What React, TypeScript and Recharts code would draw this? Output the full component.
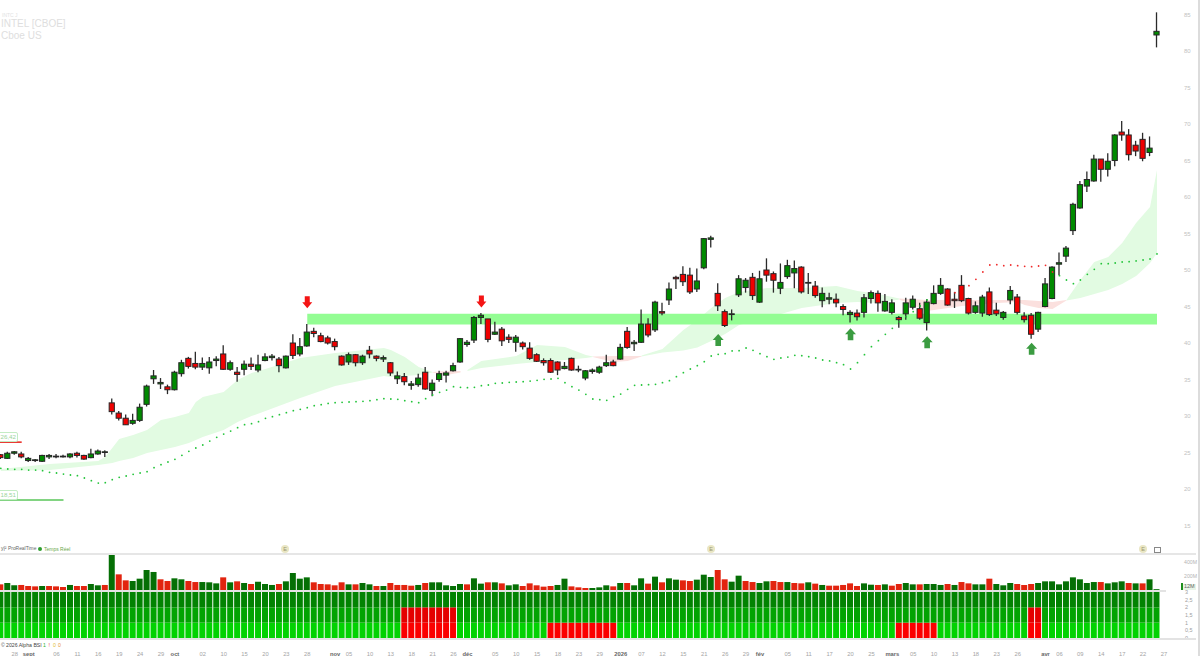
import { Area, Bar, Cell, ComposedChart, Line, ReferenceDot, ReferenceLine, XAxis, YAxis } from "recharts";

// daily candles
const opens = [
  24.7, 24.2, 24.9, 24.8, 23.9, 23.9, 23.8, 24.4, 24.4, 24.4,
  24.4, 24.9, 24.6, 24.3, 24.8, 25.0, 31.8, 30.4, 29.7, 29.0,
  29.4, 31.6, 35.1, 34.4, 34.0, 33.6, 35.8, 37.9, 37.2, 36.7,
  36.6, 37.6, 38.5, 36.4, 36.0, 36.4, 37.1, 36.3, 37.6, 38.0,
  37.8, 36.6, 40.0, 38.5, 39.6, 41.6, 41.0, 40.7, 40.2, 38.2,
  37.4, 38.4, 37.3, 39.0, 38.2, 37.8, 37.3, 35.1, 35.4, 34.2,
  34.3, 36.0, 33.5, 35.0, 35.6, 36.2, 37.4, 39.8, 40.4, 43.5,
  43.3, 41.2, 41.9, 40.8, 40.1, 40.0, 39.3, 38.4, 37.6, 37.6,
  37.4, 36.5, 37.9, 36.3, 35.2, 36.1, 36.0, 36.9, 37.4, 37.8,
  41.6, 39.9, 40.1, 42.6, 41.8, 44.3, 45.9, 49.0, 49.4, 49.3,
  47.4, 50.3, 54.2, 46.8, 44.3, 43.9, 46.6, 47.6, 49.0, 45.6,
  50.0, 49.5, 47.5, 49.1, 49.6, 50.4, 48.2, 47.8, 45.8, 46.0,
  46.0, 45.0, 43.9, 44.1, 44.2, 46.1, 46.8, 44.4, 44.2, 43.5,
  44.0, 44.9, 44.7, 42.8, 45.4, 46.8, 47.4, 46.0, 47.9, 46.1,
  44.2, 44.1, 47.0, 44.5, 43.5, 45.9, 46.3, 43.7, 43.8, 41.9,
  45.0, 46.1, 50.8, 51.9, 55.4, 58.5, 61.5, 62.2, 65.2, 63.8,
  65.0, 68.9, 68.5, 67.1, 67.9, 66.1, 82.2,
];
const closes = [
  24.3, 24.9, 25.1, 24.4, 24.2, 24.0, 24.6, 24.6, 24.5, 24.5,
  24.8, 24.6, 24.1, 24.8, 25.2, 25.1, 30.6, 29.7, 28.8, 29.4,
  31.2, 34.1, 35.5, 34.6, 33.6, 36.0, 37.3, 36.8, 36.7, 37.2,
  37.4, 37.8, 36.4, 37.3, 35.7, 37.1, 36.8, 37.0, 38.1, 38.2,
  36.9, 38.2, 38.3, 39.5, 41.5, 41.3, 40.2, 40.0, 39.5, 37.0,
  38.4, 37.3, 38.2, 38.5, 37.9, 38.0, 35.9, 35.5, 34.7, 34.4,
  35.2, 33.7, 34.5, 35.8, 35.9, 36.9, 40.6, 40.1, 43.5, 43.8,
  40.5, 41.5, 40.3, 40.5, 40.8, 39.5, 37.9, 37.5, 37.3, 36.0,
  36.3, 36.8, 36.3, 36.4, 36.2, 36.3, 36.7, 37.3, 36.9, 39.4,
  39.4, 40.1, 42.6, 41.1, 45.6, 44.1, 47.4, 48.8, 48.4, 47.0,
  48.5, 54.3, 54.4, 45.1, 42.4, 44.0, 48.8, 48.6, 46.5, 48.8,
  49.3, 48.6, 48.3, 50.6, 50.2, 47.0, 48.3, 46.5, 46.8, 46.2,
  45.5, 44.6, 44.2, 43.6, 46.2, 46.9, 45.5, 45.7, 45.5, 43.2,
  45.5, 46.0, 43.4, 45.6, 46.8, 47.9, 45.2, 45.8, 45.8, 44.1,
  45.1, 46.3, 43.9, 44.0, 44.2, 47.2, 44.2, 43.2, 41.2, 44.2,
  48.1, 50.4, 51.0, 53.0, 59.0, 61.7, 62.4, 65.2, 63.8, 64.9,
  68.5, 68.5, 65.8, 66.3, 65.3, 66.7, 82.7,
];
const highs = [
  24.8, 25.1, 25.2, 25.1, 24.4, 24.1, 24.7, 24.8, 24.8, 24.7,
  24.9, 25.1, 24.7, 25.5, 25.4, 25.3, 32.4, 30.7, 30.2, 30.3,
  31.7, 34.3, 36.3, 35.2, 34.3, 36.2, 37.7, 38.1, 38.8, 38.0,
  38.1, 38.2, 39.7, 37.6, 36.7, 37.6, 38.0, 38.4, 38.6, 38.5,
  38.1, 38.3, 41.2, 40.7, 42.6, 42.1, 41.4, 41.0, 40.6, 38.3,
  38.7, 38.5, 38.4, 39.6, 38.3, 38.3, 37.4, 36.1, 35.9, 34.8,
  35.8, 36.7, 35.0, 36.2, 36.2, 37.3, 40.7, 40.4, 43.7, 44.1,
  43.3, 42.9, 42.2, 41.2, 41.1, 40.2, 40.1, 38.6, 37.9, 37.9,
  37.5, 37.4, 38.0, 36.9, 36.3, 36.5, 36.9, 38.4, 37.7, 39.9,
  42.2, 40.4, 44.6, 43.4, 45.8, 45.5, 48.3, 49.2, 50.5, 50.3,
  50.2, 54.4, 54.7, 48.2, 44.6, 44.6, 49.3, 48.9, 49.6, 49.9,
  51.6, 49.8, 50.9, 51.4, 51.3, 50.5, 49.6, 48.5, 47.6, 46.9,
  46.8, 45.3, 44.5, 44.6, 46.7, 47.2, 47.2, 46.7, 46.0, 43.7,
  46.2, 46.5, 45.5, 46.0, 47.9, 48.9, 47.5, 47.0, 49.3, 46.2,
  45.7, 46.6, 47.6, 45.5, 44.4, 47.8, 46.7, 44.2, 44.1, 44.3,
  48.9, 50.5, 52.4, 53.3, 59.2, 62.2, 63.5, 65.8, 65.2, 66.0,
  68.6, 70.4, 69.3, 67.7, 68.8, 68.3, 85.3,
];
const lows = [
  24.1, 24.1, 24.7, 24.2, 23.7, 23.7, 23.7, 24.1, 24.2, 24.3,
  24.2, 24.3, 24.0, 24.2, 24.7, 24.4, 30.2, 29.4, 28.8, 28.8,
  29.2, 31.3, 34.4, 33.7, 33.0, 33.5, 35.4, 36.5, 36.4, 36.3,
  35.8, 36.8, 36.3, 36.2, 34.7, 35.6, 36.3, 36.0, 37.5, 37.6,
  36.0, 36.5, 37.8, 38.2, 39.5, 40.8, 40.1, 39.8, 39.0, 36.9,
  37.0, 36.8, 37.0, 37.9, 37.5, 37.4, 35.5, 34.4, 34.2, 33.6,
  34.0, 33.6, 32.7, 34.7, 34.6, 36.1, 37.3, 39.5, 40.0, 42.6,
  40.1, 41.1, 39.6, 40.0, 38.8, 39.1, 37.7, 37.4, 36.9, 35.9,
  35.6, 36.4, 36.2, 36.0, 34.9, 35.8, 35.8, 36.7, 36.8, 37.7,
  39.2, 38.9, 40.0, 40.8, 41.5, 43.8, 45.2, 47.4, 47.8, 46.7,
  47.0, 50.1, 53.1, 44.4, 42.2, 43.1, 46.3, 46.9, 45.9, 45.5,
  48.4, 46.9, 46.7, 48.8, 47.5, 46.8, 46.7, 46.2, 44.9, 45.3,
  44.9, 43.8, 42.8, 43.1, 43.5, 45.4, 44.3, 44.3, 43.9, 42.1,
  43.2, 44.6, 43.2, 41.7, 45.3, 46.6, 45.1, 44.8, 45.6, 43.9,
  44.0, 43.6, 43.7, 43.7, 43.2, 45.3, 43.9, 42.8, 40.6, 41.5,
  44.9, 46.0, 49.3, 51.1, 54.8, 58.4, 60.7, 62.1, 62.1, 62.8,
  64.2, 67.7, 65.0, 65.6, 64.9, 65.6, 80.5,
];

// volume in millions
const volumes = [
  81, 100, 67, 72, 57, 52, 57, 57, 52, 43, 72, 57, 57, 86, 67, 72, 515, 224, 138, 129,
  162, 286, 258, 153, 129, 167, 153, 129, 114, 114, 110, 95, 181, 110, 124, 100, 86, 119, 86, 72,
  86, 124, 243, 162, 181, 110, 86, 81, 67, 110, 81, 81, 100, 81, 57, 57, 100, 72, 72, 62,
  72, 100, 110, 110, 67, 57, 86, 81, 167, 91, 110, 110, 95, 67, 81, 57, 95, 67, 48, 57,
  72, 162, 52, 38, 29, 29, 38, 67, 52, 100, 100, 67, 167, 91, 191, 110, 167, 148, 138, 129,
  148, 219, 186, 286, 153, 119, 205, 129, 114, 100, 124, 129, 114, 114, 100, 95, 110, 91, 72, 62,
  62, 72, 95, 57, 95, 76, 72, 81, 62, 86, 100, 81, 81, 86, 86, 72, 86, 72, 114, 95,
  81, 81, 162, 86, 67, 100, 86, 72, 86, 100, 124, 124, 81, 124, 181, 153, 100, 114, 114, 95,
  110, 124, 100, 95, 95, 153, 12,
];
const redVolumeBars = [
  0, 3, 4, 5, 7, 8, 9, 11, 12, 15, 17, 18, 23, 24, 27, 28, 32, 34, 36, 40, 45, 46, 47, 48, 49, 51, 54, 56, 57, 58,
  59, 61, 67, 70, 72, 75, 76, 77, 78, 79, 82, 83, 84, 88, 90, 93, 95, 98, 99, 103, 104, 107, 108, 111, 112, 114,
  115, 117, 119, 120, 121, 122, 123, 126, 128, 129, 132, 136, 138, 139, 142, 146, 147, 148, 158, 162, 164,
];

// Alpha BSI: which bars have one or two of their three layers turned red
const bsiRedOneLayer = [79, 80, 81, 82, 83, 84, 85, 86, 87, 88, 129, 130, 131, 132, 133, 134];
const bsiRedTwoLayers = [58, 59, 60, 61, 62, 63, 64, 65, 148, 149];

// trailing stop dots (null where the candle hides them)
const stopValues = [
  22.83, 22.74, 22.69, 22.69, 22.6, 22.6, 22.51, 22.28, 22.19, 22.05,
  21.92, 21.83, 21.51, 21.14, 20.82, 20.87, 21.28, 21.6, 21.78, 22.01,
  22.19, 22.37, 22.92, 23.33, 23.7, 24.06, 24.61, 25.16, 25.62, 26.03,
  26.57, 27.08, 27.53, 27.94, 28.4, 28.81, 28.95, 29.22, 29.68, 29.91,
  30.18, 30.46, 30.73, 30.91, 31.14, 31.42, 31.55, 31.73, 31.83, 31.87,
  31.92, 31.96, 32.01, 32.1, 32.24, 32.37, 32.33, 32.28, 32.1, 31.96,
  31.83, 32.38, 32.88, 33.24, 33.56, 34.02, 33.93, 33.88, 33.93, 34.16,
  34.25, 34.48, 34.52, 34.61, 34.66, 34.7, 34.79, 34.89, 35.02, 35.07,
  35.16, 34.57, 34.02, 33.56, 32.97, 32.33, 32.24, 32.15, 32.65, 33.01,
  33.65, 34.2, 34.25, 34.29, 34.34, 34.57, 34.84, 35.39, 35.94, 36.44,
  36.9, 37.44, 38.22, 38.45, 38.54, 38.91, 38.95, 39.32, 39.0, 38.54,
  38.13, 37.76, 37.95, 38.08, 38.31, 38.27, 38.13, 37.95, 37.67, 37.54,
  37.31, 37.03, 36.44, 37.31, 38.4, 39.5, 40.32, 41.19, 42.01, 42.9,
  43.6, 44.3, 45.07, 45.89, null, null, null, 46.9, null, 47.86,
  48.72, 49.73, 50.69, 50.73, 50.6, 50.69, 50.6, 50.5, 50.46, 50.55,
  50.64, 49.73, 49.23, 48.63, 48.13, 48.63, 49.41, 50.09, 50.87, 50.87,
  50.96, 51.1, 51.14, 51.24, 51.37, 51.51, 52.2,
];
const stopRedFrom = 137;
const stopRedTo = 151;

// cloud outlines: [bar, lower, upper]
const cloudGreen1 = [
  [0, 22.46, 22.74], [7, 22.6, 23.42], [14, 23.29, 23.83], [15, 23.42, 24.42], [16, 23.56, 25.62],
  [17, 23.83, 26.85], [19, 24.25, 27.4], [21, 24.93, 28.08], [23, 25.34, 29.45], [25, 25.75, 29.86],
  [27, 26.3, 30.41], [28, 26.71, 31.92], [29, 27.12, 32.6], [32, 28.08, 33.29], [34, 29.18, 34.93],
  [36, 30.0, 35.89], [38, 30.68, 36.44], [43, 32.47, 37.94], [48, 34.11, 38.63], [55, 35.48, 39.32],
  [56, 35.34, 39.04], [58, 35.48, 38.08], [60, 35.62, 36.71], [62, 35.96, 36.03],
];
const cloudPink1 = [[62, 35.96, 36.03], [64, 35.62, 36.16], [66, 35.96, 36.16]];
const cloudGreen2 = [
  [67, 36.16, 36.3], [69, 36.57, 37.53], [74, 37.12, 38.22], [77, 37.4, 39.73],
  [81, 37.67, 39.45], [84, 37.94, 38.36], [85, 38.08, 38.15],
];
const cloudPink2 = [[85, 38.08, 38.15], [88, 37.4, 38.22], [90, 37.53, 38.22], [92, 38.15, 38.22]];
const cloudGreen3 = [
  [92, 38.15, 38.29], [95, 38.7, 39.18], [98, 38.97, 41.78], [100, 39.38, 43.15], [102, 40.27, 44.79],
  [104, 41.23, 46.16], [106, 42.47, 46.99], [110, 43.42, 47.53], [115, 44.79, 47.53], [120, 45.48, 47.81],
  [123, 45.62, 47.12], [126, 45.48, 46.71], [129, 45.96, 46.1],
];
const cloudPink3 = [
  [129, 45.96, 46.1], [133, 44.38, 45.89], [138, 45.07, 45.89], [143, 45.48, 45.89], [146, 45.62, 45.89],
  [147, 45.2, 45.89], [149, 44.79, 45.75], [151, 44.66, 45.62], [153, 45.82, 45.89],
];
const cloudGreen4 = [
  [153, 45.82, 45.89], [155, 46.16, 48.63], [157, 46.71, 51.1], [159, 47.26, 51.78],
  [161, 48.08, 53.7], [163, 49.18, 56.44], [165, 50.96, 58.63], [166, 52.33, 63.7],
];
const cloudSections = [
  { key: "green1", fill: "#e2fbe2", knots: cloudGreen1 },
  { key: "pink1", fill: "#fbe0de", knots: cloudPink1 },
  { key: "green2", fill: "#e2fbe2", knots: cloudGreen2 },
  { key: "pink2", fill: "#fbe0de", knots: cloudPink2 },
  { key: "green3", fill: "#e2fbe2", knots: cloudGreen3 },
  { key: "pink3", fill: "#fbe0de", knots: cloudPink3 },
  { key: "green4", fill: "#e2fbe2", knots: cloudGreen4 },
];

// horizontal zone and the drawn levels
const zoneLow = 42.55;
const zoneHigh = 44.0;
const zoneFrom = 44;
const zoneTo = 166;
const resistanceLevel = 26.42;
const resistanceEnd = 3;
const supportLevel = 18.51;
const supportEnd = 9;

const arrowsDown = [[44, 45.6], [69, 45.7]];
const arrowsUp = [[103, 40.4], [122, 41.2], [133, 40.1], [148, 39.2]];

const priceTicks = [15, 20, 25, 30, 35, 40, 45, 50, 55, 60, 65, 70, 75, 80, 85];
const volumeTicks = [200, 400];
const bsiTicks = [0, 0.5, 1, 1.5, 2, 2.5, 3];
const dateTickBars = [
  2, 4, 8, 11, 14, 17, 20, 23, 25, 29, 32, 35, 38, 41, 44, 48, 50, 53, 56, 59, 62, 65, 67, 71, 74, 77, 80, 83, 86, 89,
  92, 95, 98, 101, 104, 107, 109, 113, 116, 119, 122, 125, 128, 131, 134, 137, 140, 143, 146, 150, 152, 155, 158, 161, 164, 167,
];
const dateTickLabels = [
  "28", "sept", "06", "11", "16", "19", "24", "29", "oct", "02", "10", "15", "20", "23", "28", "nov", "05", "10", "13", "18",
  "21", "26", "déc", "05", "10", "15", "18", "23", "29", "2026", "07", "12", "15", "21", "26", "29", "fév", "05", "11", "17",
  "20", "25", "mars", "05", "10", "13", "18", "23", "26", "avr", "06", "09", "14", "17", "22", "27",
];

const rows: any[] = opens.map((open, i) => ({
  i,
  open,
  close: closes[i],
  high: highs[i],
  low: lows[i],
  range: [lows[i], highs[i]],
  volume: volumes[i],
  stopGreen: i >= stopRedFrom && i <= stopRedTo ? null : stopValues[i],
  stopRed: i >= stopRedFrom && i <= stopRedTo ? stopValues[i] : null,
  zone: i >= zoneFrom && i <= zoneTo ? [zoneLow, zoneHigh] : null,
  bsiLow: 1,
  bsiMid: 1,
  bsiTop: 1,
}));
cloudSections.forEach((section) => {
  section.knots.forEach(([bar, lower, upper]) => {
    rows[bar][section.key] = [lower, upper];
  });
});

const FONT = '"Liberation Sans", Arial, sans-serif';
const WIDTH = 1200;
const PLOT_RIGHT = 35;
const xDomain = [-0.115, 167.15];
const margin = { top: 0, right: 0, bottom: 0, left: 0 };

const Candle = (props: any) => {
  const { x, y, width, height, payload } = props;
  const k = height / (payload.high - payload.low);
  const up = payload.close >= payload.open;
  const top = y + (payload.high - Math.max(payload.open, payload.close)) * k;
  const bottom = y + (payload.high - Math.min(payload.open, payload.close)) * k;
  const cx = x + width / 2;
  return (
    <g>
      <line x1={cx} x2={cx} y1={y} y2={y + height} stroke="#2a2a2a" strokeWidth={1.3} />
      <rect
        x={x + 0.4}
        y={top}
        width={width - 0.8}
        height={Math.max(bottom - top, 0.6)}
        fill={up ? "#008a00" : "#f00000"}
        stroke="#262626"
        strokeWidth={1}
      />
    </g>
  );
};

const ArrowDown = ({ cx, cy }: any) => (
  <path
    d={`M${cx - 2.5} ${cy - 6}h5v6h2.5l-5 6l-5 -6h2.5z`}
    fill="#f41414"
  />
);

const ArrowUp = ({ cx, cy }: any) => (
  <path
    d={`M${cx} ${cy - 6}l5.5 6h-2.7v6h-5.6v-6h-2.7z`}
    fill="#3b9c41"
  />
);

const DateTick = ({ x, y, payload }: any) => {
  const label = dateTickLabels[dateTickBars.indexOf(payload.value)];
  const isMonth = isNaN(Number(label)) || label === "2026";
  return (
    <text
      x={x}
      y={y}
      dy={4.3}
      textAnchor="middle"
      fontFamily={FONT}
      fontSize={5.8}
      fontWeight={isMonth ? 700 : 400}
      fill={isMonth ? "#666" : "#a4a4a4"}
    >
      {label}
    </text>
  );
};

const overlayText = (style: any) => ({
  position: "absolute" as const,
  fontFamily: FONT,
  whiteSpace: "nowrap" as const,
  lineHeight: 1,
  ...style,
});

const levelTag = (top: number) =>
  overlayText({
    left: -2,
    top,
    width: 17,
    height: 8,
    border: "1px solid #c4ecc4",
    borderRadius: 2,
    fontSize: 6.2,
    lineHeight: "8px",
    color: "#9ad49a",
    textAlign: "right",
    paddingRight: 1,
  });

const EarningsBadge = ({ left }: { left: number }) => (
  <div
    style={overlayText({
      left: left - 4,
      top: 545,
      width: 8,
      height: 8,
      borderRadius: 4,
      background: "#e9e6c4",
      color: "#9a9870",
      fontSize: 5.5,
      textAlign: "center",
      lineHeight: "8px",
    })}
  >
    E
  </div>
);

export default function App() {
  return (
    <div style={{ position: "absolute", left: 0, top: 0, width: WIDTH, height: 656, overflow: "hidden", background: "#fff" }}>
      {/* price panel */}
      <div style={{ position: "absolute", left: 0, top: 0 }}>
        <ComposedChart width={WIDTH} height={545} data={rows} margin={margin}>
          <XAxis dataKey="i" type="number" scale="linear" domain={xDomain} allowDataOverflow hide />
          <YAxis
            orientation="right"
            width={PLOT_RIGHT}
            domain={[12.33, 86.99]}
            allowDataOverflow
            ticks={priceTicks}
            interval={0}
            axisLine={false}
            tickLine={false}
            tickMargin={13}
            tick={{ fontSize: 6, fill: "#c2c2c2", fontFamily: FONT }}
          />
          {cloudSections.map((section) => (
            <Area
              key={section.key}
              dataKey={section.key}
              fill={section.fill}
              fillOpacity={1}
              stroke="none"
              connectNulls
              dot={false}
              activeDot={false}
              isAnimationActive={false}
            />
          ))}
          <Area dataKey="zone" fill="#93fd93" fillOpacity={1} stroke="none" dot={false} activeDot={false} isAnimationActive={false} />
          <ReferenceLine
            segment={[{ x: xDomain[0], y: resistanceLevel }, { x: resistanceEnd, y: resistanceLevel }]}
            stroke="#e8231c"
            strokeWidth={1.5}
          />
          <ReferenceLine
            segment={[{ x: xDomain[0], y: supportLevel }, { x: supportEnd, y: supportLevel }]}
            stroke="#58c658"
            strokeWidth={1.5}
          />
          <Bar dataKey="range" barSize={6} shape={Candle} isAnimationActive={false} />
          <Line dataKey="stopGreen" stroke="none" dot={{ r: 0.9, fill: "#23c43a", stroke: "none" }} activeDot={false} isAnimationActive={false} />
          <Line dataKey="stopRed" stroke="none" dot={{ r: 0.9, fill: "#ef2b2b", stroke: "none" }} activeDot={false} isAnimationActive={false} />
          {arrowsDown.map(([bar, price]) => (
            <ReferenceDot key={bar} x={bar} y={price} shape={ArrowDown} />
          ))}
          {arrowsUp.map(([bar, price]) => (
            <ReferenceDot key={bar} x={bar} y={price} shape={ArrowUp} />
          ))}
        </ComposedChart>
      </div>

      {/* volume panel */}
      <div style={{ position: "absolute", left: 0, top: 554 }}>
        <ComposedChart width={WIDTH} height={36} data={rows} margin={margin}>
          <XAxis dataKey="i" type="number" scale="linear" domain={xDomain} allowDataOverflow hide />
          <YAxis
            orientation="right"
            width={PLOT_RIGHT}
            domain={[0, 515]}
            allowDataOverflow
            ticks={volumeTicks}
            interval={0}
            axisLine={false}
            tickLine={false}
            tickMargin={13}
            tickFormatter={(v: number) => `${v}M`}
            tick={{ fontSize: 5.2, fill: "#b4b4b4", fontFamily: FONT }}
          />
          <Bar dataKey="volume" barSize={6} isAnimationActive={false}>
            {rows.map((row) => (
              <Cell key={row.i} fill={redVolumeBars.includes(row.i) ? "#e2240f" : "#056f05"} />
            ))}
          </Bar>
        </ComposedChart>
      </div>

      {/* Alpha BSI panel, 4px of top margin so the "3" tick is not clipped */}
      <div style={{ position: "absolute", left: 0, top: 587.7 }}>
        <ComposedChart width={WIDTH} height={68.3} data={rows} margin={{ top: 4, right: 0, bottom: 0, left: 0 }}>
          <XAxis
            dataKey="i"
            type="number"
            scale="linear"
            domain={xDomain}
            allowDataOverflow
            ticks={dateTickBars}
            interval={0}
            height={18.3}
            axisLine={false}
            tickLine={false}
            tickMargin={8}
            tick={DateTick}
          />
          <YAxis
            orientation="right"
            width={PLOT_RIGHT}
            domain={[0, 3]}
            allowDataOverflow
            ticks={bsiTicks}
            interval={0}
            axisLine={false}
            tickLine={false}
            tickMargin={14}
            tickFormatter={(v: number) => String(v).replace(".", ",")}
            tick={{ fontSize: 5.5, fill: "#a0a0a0", fontFamily: FONT }}
          />
          <Bar dataKey="bsiLow" stackId="bsi" barSize={6} isAnimationActive={false}>
            {rows.map((row) => (
              <Cell
                key={row.i}
                fill={bsiRedOneLayer.includes(row.i) || bsiRedTwoLayers.includes(row.i) ? "#fb0000" : "#02d202"}
              />
            ))}
          </Bar>
          <Bar dataKey="bsiMid" stackId="bsi" barSize={6} isAnimationActive={false}>
            {rows.map((row) => (
              <Cell key={row.i} fill={bsiRedTwoLayers.includes(row.i) ? "#e40000" : "#02a302"} />
            ))}
          </Bar>
          <Bar dataKey="bsiTop" stackId="bsi" fill="#028302" barSize={6} isAnimationActive={false} />
        </ComposedChart>
      </div>

      {/* separators */}
      <div style={{ position: "absolute", left: 0, top: 553, width: 1196, height: 1.5, background: "#e6e6e6" }} />
      <div style={{ position: "absolute", left: 0, top: 590, width: 1166, height: 1.5, background: "#e3e3e3" }} />
      <div style={{ position: "absolute", left: 0, top: 638, width: 1196, height: 1.5, background: "#e3e3e3" }} />
      <div style={{ position: "absolute", left: 1198, top: 0, width: 1.5, height: 656, background: "#dcdcdc" }} />

      {/* header */}
      <div style={overlayText({ left: 2, top: 13, fontSize: 5, color: "#e2e2e2" })}>INTC J</div>
      <div style={overlayText({ left: 1, top: 19, fontSize: 10, color: "#dedede" })}>INTEL [CBOE]</div>
      <div style={overlayText({ left: 1, top: 31, fontSize: 10, color: "#dedede" })}>Cboe US</div>

      {/* level tags */}
      <div style={levelTag(432)}>26,42</div>
      <div style={levelTag(490)}>18,51</div>

      {/* panel captions */}
      <div style={overlayText({ left: 1, top: 546, fontSize: 5, color: "#555" })}>y|²</div>
      <div style={overlayText({ left: 8, top: 546.8, fontSize: 4.9, color: "#666" })}>ProRealTime</div>
      <div style={{ position: "absolute", left: 38, top: 547, width: 4, height: 4, borderRadius: 2, background: "#2f9e2f" }} />
      <div style={overlayText({ left: 44, top: 546.8, fontSize: 5, color: "#6aa84a" })}>Temps Réel</div>
      <EarningsBadge left={285} />
      <EarningsBadge left={711} />
      <EarningsBadge left={1143} />
      <div style={{ position: "absolute", left: 1154, top: 546.5, width: 4.5, height: 4.5, border: "1px solid #888" }} />
      <div style={overlayText({ left: 1, top: 642.5, fontSize: 5.2, color: "#555" })}>©</div>
      <div style={overlayText({ left: 6, top: 642.5, fontSize: 5.2, color: "#444" })}>2026 Alpha BSI</div>
      <div style={overlayText({ left: 43, top: 642.5, fontSize: 5.2, color: "#2fb52f" })}>1</div>
      <div style={overlayText({ left: 48.5, top: 642.5, fontSize: 5.2, color: "#e23a3a" })}>!</div>
      <div style={overlayText({ left: 53, top: 642.5, fontSize: 5.2, color: "#e0c030" })}>0</div>
      <div style={overlayText({ left: 58, top: 642.5, fontSize: 5.2, color: "#e8963a" })}>0</div>

      {/* current volume tag */}
      <div style={{ position: "absolute", left: 1181, top: 583, width: 1.5, height: 7, background: "#1d8f1d" }} />
      <div style={overlayText({ left: 1183, top: 584, fontSize: 5.5, color: "#666", background: "#e8f5e8", padding: "0 1px" })}>12M</div>
    </div>
  );
}
